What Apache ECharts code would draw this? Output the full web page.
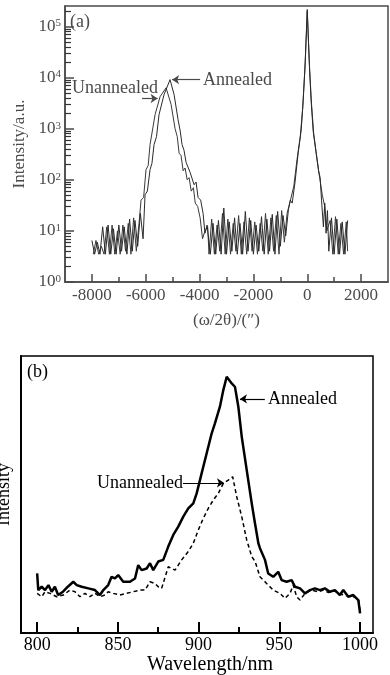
<!DOCTYPE html>
<html>
<head>
<meta charset="utf-8">
<script src="https://cdn.jsdelivr.net/npm/echarts@6.0.0/dist/echarts.min.js"></script>
<style>
  html, body { margin: 0; padding: 0; background: #fff; }
  #chart { width: 390px; height: 675px; }
</style>
</head>
<body>
<div id="chart"></div>
<script>
// (a) X-ray rocking curves, [omega/2theta (arcsec), intensity a.u.]
const xrdAnnealed = [
  [-8000, 6.5], [-7900, 3.5], [-7800, 6], [-7700, 3.5], [-7600, 12], [-7500, 3.5],
  [-7400, 13], [-7300, 3.5], [-7200, 11], [-7100, 3.5], [-7000, 13], [-6900, 4],
  [-6800, 12], [-6700, 3.5], [-6600, 17], [-6500, 4], [-6400, 16], [-6300, 5],
  [-6200, 22], [-6100, 7], [-6026, 51], [-5940, 60], [-5840, 158], [-5770, 210],
  [-5691, 490], [-5600, 700], [-5506, 1880], [-5320, 4650], [-5097, 9100],
  [-4948, 4650], [-4799, 1500], [-4720, 900], [-4651, 490], [-4580, 380],
  [-4502, 220], [-4430, 230], [-4353, 140], [-4280, 150], [-4204, 80], [-4130, 90],
  [-4056, 45], [-3960, 40], [-3870, 22], [-3800, 9], [-3721, 13],
  [-3600, 3.5], [-3500, 14], [-3400, 3.5], [-3300, 16], [-3200, 3.5], [-3100, 28],
  [-3000, 3.5], [-2900, 15], [-2800, 4], [-2700, 18], [-2600, 3.5], [-2500, 14],
  [-2400, 3.5], [-2300, 24], [-2200, 4], [-2100, 16], [-2000, 3.5], [-1900, 13],
  [-1800, 4], [-1700, 19], [-1600, 3.5], [-1500, 17], [-1400, 4], [-1300, 21],
  [-1200, 3.5], [-1100, 24], [-1000, 5], [-900, 20], [-800, 8], [-700, 26],
  [-630, 40], [-560, 35], [-457, 87], [-335, 340], [-223, 950], [-149, 3700], [-74, 20000],
  [0, 215000], [74, 20000], [140, 3700], [220, 900], [320, 360], [420, 150],
  [480, 110], [530, 40], [600, 12], [650, 35], [700, 9], [750, 25], [800, 4], [900, 18],
  [1000, 3.5], [1100, 17], [1200, 3.5], [1300, 15], [1400, 3.5], [1500, 16]
];
const xrdUnannealed = [
  [-7950, 3.5], [-7850, 6.5], [-7750, 3.5], [-7650, 5], [-7550, 3.5], [-7450, 12],
  [-7350, 3.5], [-7250, 13], [-7150, 3.5], [-7050, 10], [-6950, 3.5], [-6850, 13],
  [-6750, 4], [-6650, 14], [-6550, 3.5], [-6450, 18], [-6350, 4], [-6250, 14],
  [-6175, 40], [-6080, 45], [-5989, 158], [-5910, 190], [-5840, 490], [-5654, 1880],
  [-5468, 4230], [-5245, 6300], [-5060, 3000], [-4910, 1000], [-4830, 700],
  [-4760, 330], [-4690, 300], [-4610, 150], [-4540, 170], [-4460, 100], [-4390, 110],
  [-4310, 60], [-4230, 70], [-4160, 35], [-4070, 30], [-3980, 18], [-3890, 7],
  [-3800, 10], [-3700, 12],
  [-3650, 3.5], [-3550, 17], [-3450, 3.5], [-3350, 13], [-3250, 4], [-3150, 22],
  [-3050, 3.5], [-2950, 17], [-2850, 3.5], [-2750, 14], [-2650, 4], [-2550, 20],
  [-2450, 3.5], [-2350, 15], [-2250, 3.5], [-2150, 18], [-2050, 4], [-1950, 15],
  [-1850, 3.5], [-1750, 14], [-1650, 4], [-1550, 22], [-1450, 3.5], [-1350, 18],
  [-1250, 4], [-1150, 20], [-1050, 3.5], [-950, 25], [-850, 6], [-750, 22],
  [-650, 35], [-500, 75], [-380, 250], [-260, 700], [-170, 2500], [-90, 14000],
  [0, 200000], [90, 14000], [160, 3000], [240, 800], [340, 320], [440, 130],
  [560, 50], [650, 30], [725, 10], [850, 16], [950, 3.5], [1050, 19], [1150, 3.5],
  [1250, 14], [1350, 3.5], [1450, 15], [1500, 4]
];

// (b) PL spectra, [wavelength nm, intensity a.u.]
const plAnnealed = [
  [800, 21.5], [800.7, 15.5], [802.8, 16.7], [804.9, 15.5], [807, 17.3], [809, 14.9],
  [811, 16.7], [813, 13.7], [816, 14.9], [819, 16.7], [822.4, 18.5], [824.5, 17.3],
  [827.6, 16.7], [831.7, 16.1], [835.8, 15.5], [838.9, 13.7], [841, 15.5], [844, 17.3],
  [846.1, 20.3], [848.2, 19.7], [850.2, 20.9], [853.3, 18.5], [857.5, 18.5],
  [860.6, 19.7], [862.6, 24.5], [864.7, 22.7], [867.8, 23.3], [869.9, 25.2],
  [871.9, 22.7], [875, 25.8], [878.1, 26.4], [881.2, 31.2], [884.3, 35.4],
  [887.4, 38.4], [890.5, 42], [893.6, 45], [896.7, 46.8], [898.8, 50.4], [901.9, 57.7],
  [905, 64.9], [908.1, 72.1], [910.1, 75.7], [913.2, 81.7], [915.3, 87.7],
  [917.4, 92.5], [920.5, 90.1], [922.5, 88.9], [924.6, 81.7], [926.7, 70.9],
  [929.8, 58.8], [932.9, 46.8], [934.9, 39.6], [937, 32.4], [938, 30.6], [941.1, 26.4],
  [943.1, 21.5], [946.2, 20.3], [949.3, 22.1], [951.4, 19.1], [954.5, 18.5],
  [957.6, 19.1], [959.7, 16.7], [962.8, 16.1], [965.9, 14.3], [969, 15.5], [972, 16.1],
  [975.1, 15.5], [978.2, 16.1], [981.3, 14.9], [984.4, 15.5], [987.5, 13.7],
  [989.6, 15.5], [992.7, 13.1], [995.8, 13.7], [998.9, 11.9], [1000, 7.1]
];
const plUnannealed = [
  [800, 14.3], [802.8, 13.1], [804.9, 14.9], [808, 14.3], [812.1, 13.1], [816.2, 13.7],
  [820.3, 15.5], [823.4, 14.9], [826.5, 13.1], [829.6, 14.3], [832.7, 13.1],
  [835.8, 14.3], [838.9, 13.1], [842, 13.7], [844, 14.9], [847.2, 14.3], [851.3, 13.7],
  [855.4, 14.3], [859.5, 14.9], [863.7, 15.5], [866.8, 15.5], [869.9, 18.5], [873, 17.9],
  [875, 16.7], [877.1, 16.1], [881.2, 23.9], [885.4, 22.7], [889.5, 26.4],
  [893.6, 29.4], [896.7, 32.4], [899.8, 37.2], [902.9, 41.4], [906, 45], [909.1, 48],
  [912.2, 50.4], [915.3, 54], [918.4, 55.2], [921.1, 56.4], [923.6, 49.2], [926.7, 42],
  [929.8, 33.6], [932.9, 27.6], [935, 25.8], [938, 20.3], [942.1, 17.9], [946.2, 15.5],
  [950.4, 14.3], [953.5, 12.5], [956.6, 14.3], [958.6, 17.3], [960.7, 13.1],
  [962.8, 11.9], [965.9, 14.3], [970, 15.5], [974.1, 14.9], [977.2, 15.5],
  [980.5, 14.6], [984, 15.2], [988, 14.0], [992, 13.4], [996, 13.1], [999, 12.2],
  [1000, 8]
];

// tick values
const xrdMajorX = [-8000, -6000, -4000, -2000, 0, 2000];
const xrdMinorX = [-7000, -5000, -3000, -1000, 1000];
const xrdMajorY = [1, 10, 100, 1000, 10000, 100000];
const xrdMinorY = [];
xrdMajorY.forEach((d) => {
  [2, 3, 4, 5, 6, 7, 8, 9].forEach((m) => xrdMinorY.push(d * m));
});
const plMajorX = [800, 850, 900, 950, 1000];
const plMinorX = [825, 875, 925, 975];

const SERIF = '"Liberation Serif", "DejaVu Serif", serif';
const GREY = '#4a4a4a';

const chart = echarts.init(document.getElementById('chart'), null, { renderer: 'canvas' });

const arrow = (from, to, color) => ({
  silent: true,
  symbol: ['none', 'arrow'],
  symbolSize: 7,
  label: { show: false },
  lineStyle: { color: color, width: 1.2, type: 'solid' },
  data: [[{ coord: from }, { coord: to }]]
});

const text = (str, x, y, size, color) => ({
  type: 'text',
  x: x,
  y: y,
  style: {
    text: str,
    fill: color,
    font: size + 'px ' + SERIF,
    verticalAlign: 'middle'
  }
});

chart.setOption({
  animation: false,
  backgroundColor: '#fff',
  grid: [
    { left: 65, right: 2, top: 6, bottom: 393, outerBoundsMode: 'none', containLabel: false,
      show: true, borderColor: GREY, borderWidth: 1.5 },
    { left: 21, right: 17, top: 356, bottom: 42, outerBoundsMode: 'none', containLabel: false,
      show: true, borderColor: '#000', borderWidth: 1.5 }
  ],
  xAxis: [
    {
      gridIndex: 0, type: 'value', position: 'bottom', min: -9000, max: 3000,
      axisLine: { onZero: false, lineStyle: { color: GREY, width: 1.5 } },
      axisTick: { inside: true, length: 8, customValues: xrdMajorX, lineStyle: { color: GREY, width: 1.5 } },
      axisLabel: {
        customValues: xrdMajorX, color: GREY, fontFamily: SERIF, fontSize: 17, margin: 5,
        formatter: (v) => String(v)
      },
      splitLine: { show: false },
      name: '(ω/2θ)/(″)', nameLocation: 'middle', nameGap: 30,
      nameTextStyle: { color: GREY, fontFamily: SERIF, fontSize: 17 }
    },
    {
      gridIndex: 0, type: 'value', position: 'bottom', min: -9000, max: 3000,
      axisLine: { show: false, onZero: false },
      axisTick: { inside: true, length: 5, customValues: xrdMinorX, lineStyle: { color: GREY, width: 1.5 } },
      axisLabel: { show: false },
      splitLine: { show: false }
    },
    {
      gridIndex: 1, type: 'value', position: 'bottom', min: 790, max: 1008,
      axisLine: { onZero: false, lineStyle: { color: '#000', width: 2 } },
      axisTick: { inside: true, length: 11, customValues: plMajorX, lineStyle: { color: '#000', width: 2 } },
      axisLabel: {
        customValues: plMajorX, color: '#000', fontFamily: SERIF, fontSize: 18, margin: 3,
        formatter: (v) => String(v)
      },
      splitLine: { show: false },
      name: 'Wavelength/nm', nameLocation: 'middle', nameGap: 22,
      nameTextStyle: { color: '#000', fontFamily: SERIF, fontSize: 20, padding: [0, 0, 0, 26] }
    },
    {
      gridIndex: 1, type: 'value', position: 'bottom', min: 790, max: 1008,
      axisLine: { show: false, onZero: false },
      axisTick: { inside: true, length: 6, customValues: plMinorX, lineStyle: { color: '#000', width: 2 } },
      axisLabel: { show: false },
      splitLine: { show: false }
    }
  ],
  yAxis: [
    {
      gridIndex: 0, type: 'log', position: 'left', min: 1, max: 251189, logBase: 10,
      axisLine: { onZero: false, lineStyle: { color: GREY, width: 1.5 } },
      axisTick: { inside: true, length: 9, customValues: xrdMajorY, lineStyle: { color: GREY, width: 1.5 } },
      axisLabel: {
        customValues: xrdMajorY, margin: 4,
        formatter: (v) => '{b|10}{s|' + Math.round(Math.log10(v)) + '}',
        rich: {
          b: { color: GREY, fontFamily: SERIF, fontSize: 17, verticalAlign: 'bottom' },
          s: { color: GREY, fontFamily: SERIF, fontSize: 11, verticalAlign: 'top' }
        }
      },
      splitLine: { show: false },
      name: 'Intensity/a.u.', nameLocation: 'middle', nameGap: 34,
      nameTextStyle: { color: GREY, fontFamily: SERIF, fontSize: 17 }
    },
    {
      gridIndex: 0, type: 'log', position: 'left', min: 1, max: 251189, logBase: 10,
      axisLine: { show: false, onZero: false },
      axisTick: { show: true, inside: true, length: 6, customValues: xrdMinorY, lineStyle: { color: '#333', width: 1.2 } },
      axisLabel: { show: false },
      splitLine: { show: false }
    },
    {
      gridIndex: 1, type: 'value', position: 'left', min: 0, max: 100,
      axisLine: { onZero: false, lineStyle: { color: '#000', width: 2 } },
      axisTick: { show: false },
      axisLabel: { show: false },
      splitLine: { show: false },
      name: 'Intensity', nameLocation: 'middle', nameGap: 8,
      nameTextStyle: { color: '#000', fontFamily: SERIF, fontSize: 18 }
    }
  ],
  series: [
    {
      name: 'Unannealed', type: 'line', xAxisIndex: 0, yAxisIndex: 0,
      data: xrdUnannealed, showSymbol: false, symbol: 'none',
      lineStyle: { color: '#3a3a3a', width: 1 },
      markLine: arrow([-6140, 3890], [-5560, 3890], GREY)
    },
    {
      name: 'Annealed', type: 'line', xAxisIndex: 0, yAxisIndex: 0,
      data: xrdAnnealed, showSymbol: false, symbol: 'none',
      lineStyle: { color: '#2a2a2a', width: 1 },
      markLine: arrow([-3980, 9100], [-5020, 9100], GREY)
    },
    {
      name: 'Unannealed PL', type: 'line', xAxisIndex: 2, yAxisIndex: 2,
      data: plUnannealed, showSymbol: false, symbol: 'none',
      lineStyle: { color: '#000', width: 1.5, type: [4, 3] },
      markLine: arrow([890.3, 54.2], [915.7, 54.2], '#000')
    },
    {
      name: 'Annealed PL', type: 'line', xAxisIndex: 2, yAxisIndex: 2,
      data: plAnnealed, showSymbol: false, symbol: 'none',
      lineStyle: { color: '#000', width: 2.5 },
      markLine: arrow([941, 84.5], [925.6, 84.5], '#000')
    }
  ],
  graphic: [
    text('(a)', 70, 22, 18, GREY),
    text('Unannealed', 72, 88, 18, GREY),
    text('Annealed', 203, 80, 18, GREY),
    text('(b)', 27, 372, 18, '#000'),
    text('Annealed', 268, 399, 18, '#000'),
    text('Unannealed', 97, 483, 18, '#000')
  ]
});

window.addEventListener('resize', () => chart.resize());
</script>
</body>
</html>
